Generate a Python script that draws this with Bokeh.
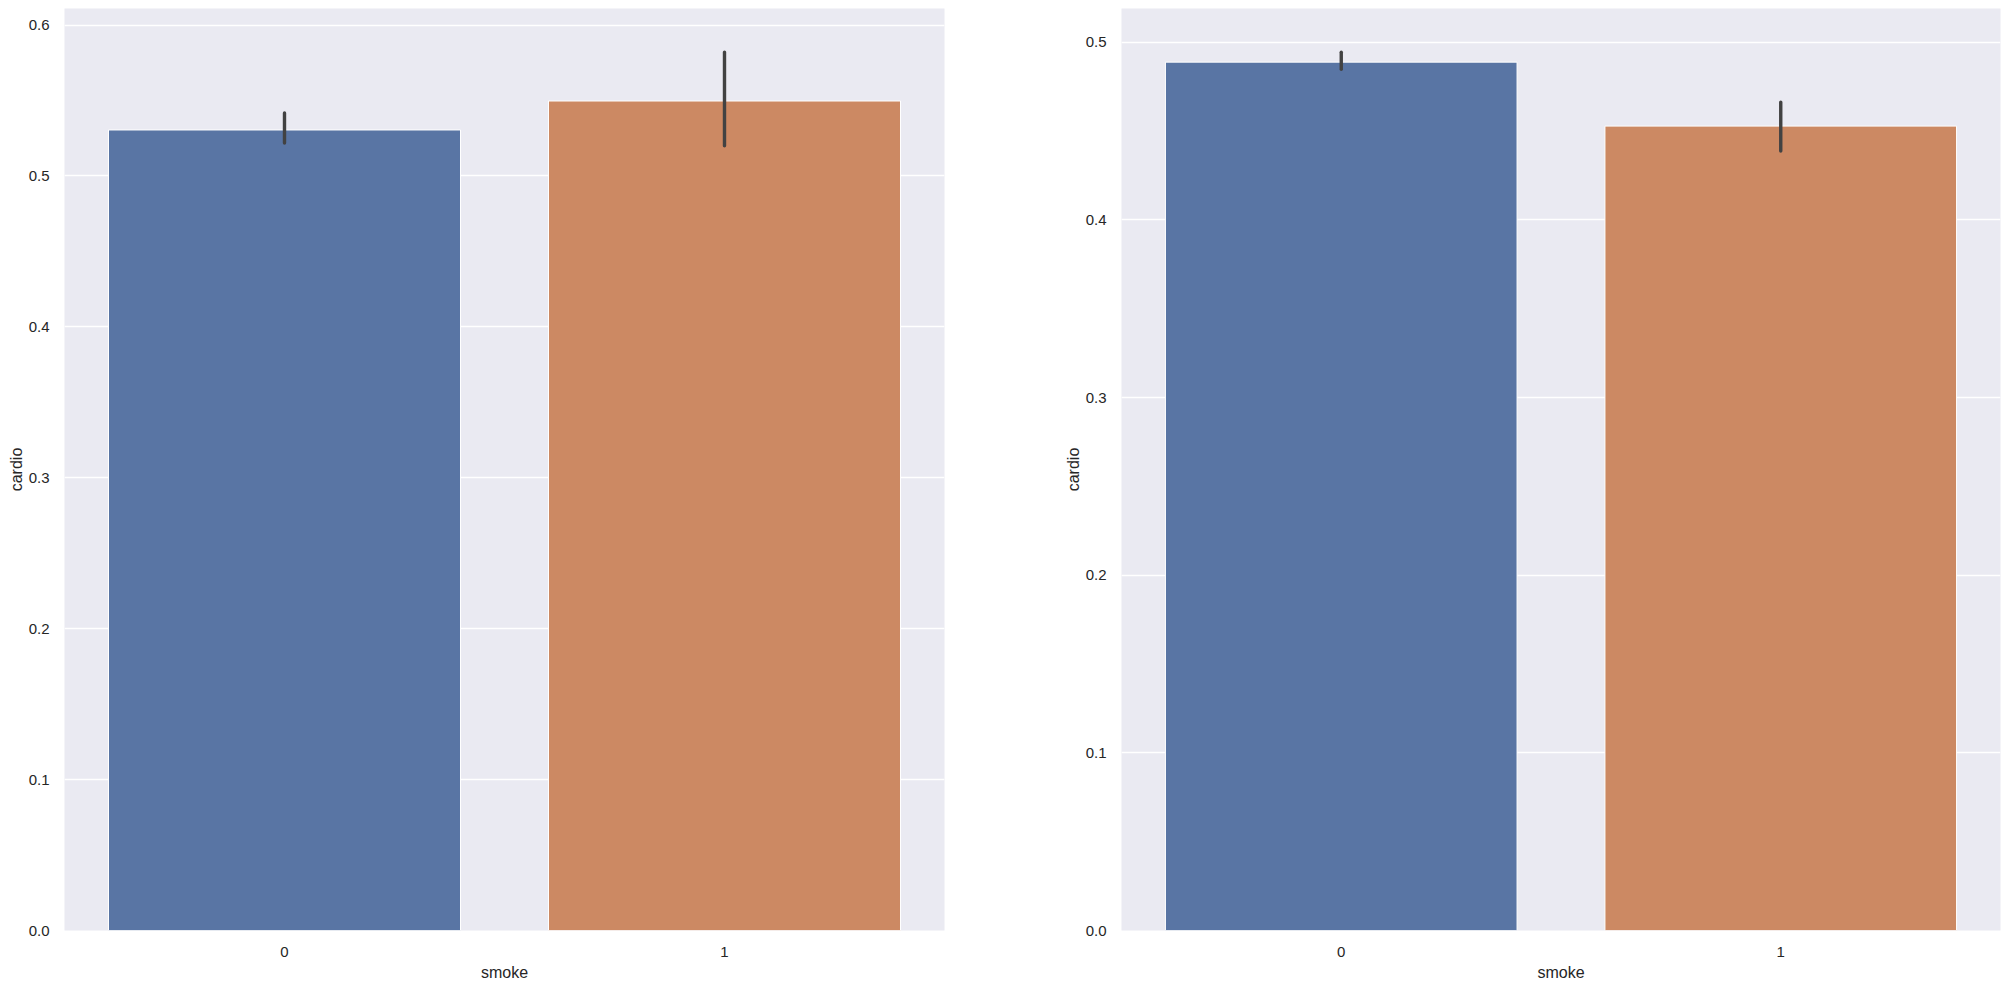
from bokeh.plotting import figure
from bokeh.layouts import row
from bokeh.models import FixedTicker, Range1d, ColumnDataSource
from bokeh.embed import file_html
from bokeh.resources import INLINE

# ---- data ----
categories = [0, 1]
cat_labels = ["0", "1"]
colors = ["#5975A4", "#CC8963"]

left_means = [0.5305, 0.5497]
left_ci_low = [0.5219, 0.5200]
left_ci_high = [0.5418, 0.5821]

right_means = [0.4888, 0.4528]
right_ci_low = [0.4848, 0.4388]
right_ci_high = [0.4944, 0.4663]

left_yticks = [0.0, 0.1, 0.2, 0.3, 0.4, 0.5, 0.6]
right_yticks = [0.0, 0.1, 0.2, 0.3, 0.4, 0.5]

FONT = "Liberation Sans"
TXT = "#262626"


def make_panel(means, lo, hi, yticks, ymax, fw, border_left, border_right):
    p = figure(frame_width=fw, frame_height=922,
               min_border_left=border_left, min_border_right=border_right,
               min_border_top=8, min_border_bottom=46,
               x_range=Range1d(-0.5, 1.5), y_range=Range1d(0, ymax),
               output_backend="svg", toolbar_location=None,
               background_fill_color="#EAEAF2", border_fill_color="white",
               outline_line_color=None)
    src = ColumnDataSource(dict(x=categories, top=means, color=colors,
                                lo=lo, hi=hi))
    p.vbar(x="x", top="top", width=0.8, bottom=0, fill_color="color",
           line_color="white", line_width=1, source=src)
    p.segment(x0="x", y0="lo", x1="x", y1="hi", source=src,
              line_color="#424242", line_width=3.4, line_cap="round")

    p.xgrid.visible = False
    p.ygrid.grid_line_color = "white"
    p.ygrid.grid_line_width = 1.3
    p.ygrid.level = "underlay"

    p.xaxis.ticker = FixedTicker(ticks=categories)
    p.xaxis.major_label_overrides = {c: l for c, l in zip(categories, cat_labels)}
    p.yaxis.ticker = FixedTicker(ticks=yticks)
    p.yaxis.major_label_overrides = {t: f"{t:.1f}" for t in yticks}

    for ax in (p.xaxis[0], p.yaxis[0]):
        ax.axis_line_color = None
        ax.major_tick_line_color = None
        ax.minor_tick_line_color = None
        ax.major_tick_out = 0
        ax.major_tick_in = 0
        ax.minor_tick_out = 0
        ax.major_label_text_font = FONT
        ax.major_label_text_font_size = "15px"
        ax.major_label_text_color = TXT
        ax.axis_label_text_font = FONT
        ax.axis_label_text_font_size = "16px"
        ax.axis_label_text_font_style = "normal"
        ax.axis_label_text_color = TXT
    p.xaxis.axis_label = "smoke"
    p.yaxis.axis_label = "cardio"
    p.xaxis.major_label_standoff = 16
    p.xaxis.axis_label_standoff = 4
    p.yaxis.major_label_standoff = 15
    p.yaxis.axis_label_standoff = 1
    return p


p1 = make_panel(left_means, left_ci_low, left_ci_high, left_yticks, 0.611, 880, 64, 10)
p2 = make_panel(right_means, right_ci_low, right_ci_high, right_yticks, 0.519, 879, 167, 2)

layout = row(p1, p2, spacing=0)
open("out.html", "w").write(file_html(layout, INLINE))
